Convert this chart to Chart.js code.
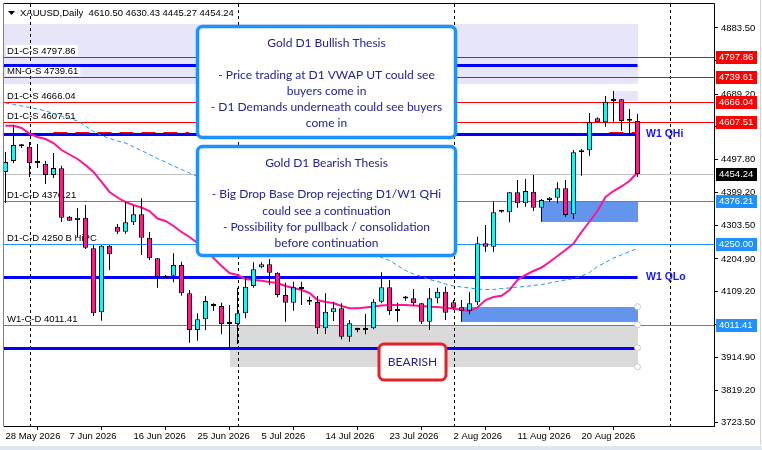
<!DOCTYPE html>
<html>
<head>
<meta charset="utf-8">
<script src="https://cdn.jsdelivr.net/npm/chart.js@4.4.1/dist/chart.umd.min.js"></script>
<style>
html, body { margin: 0; padding: 0; background: #fff; overflow: hidden; }
canvas { display: block; }
</style>
</head>
<body>
<canvas id="chart" width="762" height="450"></canvas>
<script>
// XAUUSD daily candles
var opens = [4460.3, 4492.6, 4536.0, 4534.7, 4486.7, 4484.7, 4451.5, 4471.2, 4328.9, 4319.2,
  4326.0, 4236.0, 4047.9, 4243.7, 4299.5, 4284.8, 4312.5, 4336.0, 4267.2, 4206.6,
  4149.6, 4155.5, 4187.0, 4103.8, 3995.9, 4027.4, 4071.4, 4066.5, 4013.6, 4013.6,
  4045.0, 4125.3, 4180.2, 4189.0, 4164.3, 4098.8, 4076.2, 4119.4, 4079.1, 4078.2,
  4000.9, 4047.9, 4059.7, 3976.2, 3995.9, 3995.9, 4000.9, 4079.1, 4121.4, 4052.6,
  4089.1, 4089.1, 4074.4, 4020.3, 4089.1, 4108.5, 4077.3, 4062.7, 4052.6, 4077.3,
  4250.7, 4240.7, 4343.6, 4341.8, 4400.6, 4368.3, 4402.4, 4355.4, 4378.0, 4384.8,
  4412.4, 4336.0, 4518.2, 4524.1, 4618.1, 4606.4, 4669.0, 4674.0, 4612.2, 4610.50];
var highs = [4519.1, 4598.4, 4542.6, 4548.5, 4542.6, 4492.6, 4516.1, 4478.8, 4331.0, 4354.5,
  4363.3, 4245.7, 4245.7, 4245.7, 4307.5, 4373.0, 4361.3, 4383.0, 4284.0, 4207.5,
  4157.6, 4221.3, 4196.7, 4113.5, 4045.0, 4095.9, 4074.4, 4076.2, 4069.4, 4120.2,
  4152.6, 4194.9, 4194.9, 4204.6, 4165.5, 4134.9, 4137.9, 4137.9, 4093.8, 4095.9,
  4103.8, 4079.1, 4074.4, 4025.3, 4002.7, 4043.0, 4086.2, 4165.5, 4142.9, 4076.2,
  4095.9, 4116.4, 4075.3, 4118.5, 4120.2, 4123.2, 4084.1, 4084.1, 4106.7, 4270.2,
  4304.5, 4373.0, 4346.5, 4401.5, 4436.8, 4439.7, 4451.5, 4381.0, 4386.8, 4430.0,
  4436.8, 4524.9, 4527.9, 4633.7, 4621.1, 4683.7, 4698.4, 4674.9, 4645.5, 4630.43];
var lows = [4369.2, 4486.7, 4530.8, 4445.6, 4472.0, 4425.0, 4442.7, 4313.3, 4316.3, 4269.3,
  4234.0, 4037.1, 4023.3, 4172.3, 4278.1, 4278.9, 4304.5, 4216.4, 4201.7, 4120.2,
  4148.7, 4136.1, 4096.8, 3958.6, 3964.5, 3995.9, 4052.6, 3983.3, 3940.1, 3954.8,
  4030.3, 4120.2, 4177.3, 4128.2, 4092.0, 4020.3, 4052.6, 4069.4, 4069.4, 3984.2,
  3984.2, 4022.4, 3968.6, 3961.5, 3989.1, 3983.3, 3998.0, 4074.4, 4040.0, 4020.3,
  4082.0, 4067.3, 4013.6, 3995.9, 4074.4, 4025.3, 4054.7, 4020.3, 4042.1, 4069.4,
  4226.0, 4226.0, 4340.7, 4312.5, 4355.4, 4358.3, 4345.7, 4314.2, 4373.0, 4368.3,
  4328.9, 4322.2, 4449.4, 4508.2, 4604.3, 4593.4, 4608.1, 4581.7, 4569.0, 4445.27];
var closes = [4489.7, 4539.6, 4537.0, 4485.9, 4488.2, 4451.5, 4472.0, 4326.0, 4317.2, 4326.0,
  4237.8, 4045.0, 4243.7, 4218.4, 4284.8, 4312.5, 4336.0, 4267.2, 4206.6, 4152.6,
  4155.5, 4187.0, 4103.8, 3995.9, 4027.4, 4081.2, 4066.5, 4013.6, 4015.0, 4045.0,
  4123.2, 4174.3, 4189.0, 4164.3, 4098.8, 4076.2, 4121.4, 4116.4, 4079.7, 4000.9,
  4049.7, 4059.7, 3976.2, 4015.6, 3996.5, 4000.9, 4079.1, 4121.4, 4051.8, 4051.8,
  4088.5, 4074.4, 4020.3, 4089.1, 4108.5, 4046.8, 4061.5, 4052.6, 4074.4, 4250.7,
  4240.7, 4341.8, 4344.8, 4400.6, 4368.3, 4404.4, 4355.4, 4378.0, 4384.8, 4412.4,
  4333.9, 4518.2, 4524.1, 4606.4, 4606.4, 4666.9, 4674.0, 4610.2, 4611.1, 4454.24];

// D1 VWAP (pink) and slow average (blue dashed)
var vwap = [4596.4, 4596.4, 4589.6, 4573.4, 4563.2, 4557.3, 4545.5, 4524.9, 4511.7, 4498.5,
  4480.9, 4460.3, 4430.9, 4401.5, 4385.3, 4372.1, 4363.3, 4355.9, 4345.7, 4323.6,
  4316.3, 4301.6, 4283.9, 4269.3, 4251.6, 4231.1, 4207.5, 4184.0, 4163.4, 4157.6,
  4145.8, 4142.9, 4140.8, 4137.0, 4134.0, 4125.3, 4119.4, 4113.5, 4104.7, 4084.1,
  4078.2, 4075.3, 4066.5, 4059.7, 4059.7, 4062.1, 4065.0, 4067.9, 4069.4, 4069.4,
  4069.4, 4067.9, 4066.5, 4064.4, 4063.5, 4060.5, 4059.1, 4054.7, 4051.8, 4062.1,
  4084.1, 4092.9, 4096.7, 4113.5, 4142.9, 4157.6, 4169.3, 4179.6, 4195.8, 4213.4,
  4231.1, 4250.2, 4283.9, 4314.8, 4345.7, 4386.8, 4404.4, 4417.7, 4433.7, 4459.4];
var slowAvg = [4663.1, 4658.7, 4654.3, 4649.9, 4645.4, 4639.6, 4632.2, 4624.9, 4617.5, 4610.2,
  4595.5, 4579.3, 4567.6, 4558.8, 4551.4, 4545.5, 4533.8, 4523.5, 4511.7, 4500.0,
  4489.7, 4477.9, 4467.6, 4457.4, 4447.0, 4436.8, 4426.5, 4416.2, 4406.0, 4395.6,
  4385.4, 4375.1, 4364.8, 4354.5, 4344.2, 4333.9, 4323.6, 4313.3, 4303.0, 4292.8,
  4282.5, 4272.2, 4261.9, 4251.6, 4241.3, 4231.1, 4219.3, 4209.0, 4200.2, 4185.5,
  4170.8, 4160.5, 4153.2, 4144.4, 4138.5, 4131.1, 4125.3, 4122.3, 4119.4, 4116.4,
  4114.9, 4114.9, 4117.9, 4119.4, 4122.3, 4123.8, 4126.7, 4129.7, 4134.0, 4138.5,
  4142.9, 4147.3, 4154.6, 4164.9, 4182.6, 4194.3, 4207.5, 4216.4, 4226.6, 4235.4];

var dateLabels = ['28 May 2026', '7 Jun 2026', '16 Jun 2026', '25 Jun 2026', '5 Jul 2026',
  '14 Jul 2026', '23 Jul 2026', '2 Aug 2026', '11 Aug 2026', '20 Aug 2026'];
var dateTickBars = [0, 8, 16, 24, 32, 40, 48, 56, 64, 72];
var priceTicks = [3723.5, 3819.2, 3914.9, 4012.5, 4109.2, 4204.9, 4303.5, 4399.2, 4497.8,
  4593.5, 4689.2, 4787.8, 4883.5];
var monthStartBars = [3, 29, 56, 83];

var supplyLevels = [4797.86, 4739.61, 4666.04, 4607.51];
var supplyNames = ['D1-C-S 4797.86', 'MN-C-S 4739.61', 'D1-C-S 4666.04', 'D1-C-S 4607.51'];
var demandLevels = [4376.21, 4250.00, 4011.41];
var demandNames = ['D1-C-D 4376.21', 'D1-C-D 4250 B HiPC', 'W1-C-D 4011.41'];
var quarterLines = [4774.8, 4570.5, 4150.8, 3943.9];
var quarterNames = ['', 'W1 QHi', 'W1 QLo', ''];
var lastPrice = 4454.24;
var prevVwapBand = 4575.5;

// zones: [fromBar, toBar, top, bottom]
var lavenderZones = [[-1, 79, 4895.3, 4719.0], [76, 79, 4698.3, 4669.0]];
var grayZone = [28, 79, 4011.41, 3888.1];
var blueZones = [[57, 79, 4064.4, 4020.3], [67, 79, 4376.21, 4314.2]];

var bullishNote = ['Gold D1 Bullish Thesis', '', '- Price trading at D1 VWAP UT could see', 'buyers come in',
  '- D1 Demands underneath could see buyers', 'come in'];
var bearishNote = ['Gold D1 Bearish Thesis', '', '- Big Drop Base Drop rejecting D1/W1 QHi',
  'could see a continuation', '- Possibility for pullback / consolidation', 'before continuation'];
var header = 'XAUUSD,Daily  4610.50 4630.43 4445.27 4454.24';

var yMax = 4954.0, yMin = 3713.8;
var bars = opens.map(function (_, i) { return i; });
var bodyColors = bars.map(function (i) { return closes[i] >= opens[i] ? '#00ffff' : '#ff1a8c'; });
var lastBar = bars.length - 1;

var axisFont = '9.5px "Liberation Sans"';
var noteFont = '12px Lato';

function hline(ctx, x1, x2, y, color, width) {
  ctx.save();
  ctx.strokeStyle = color;
  ctx.lineWidth = width;
  ctx.beginPath();
  var yy = width % 2 ? Math.round(y) + 0.5 : Math.round(y);
  ctx.moveTo(x1, yy);
  ctx.lineTo(x2, yy);
  ctx.stroke();
  ctx.restore();
}

var backdrop = {
  id: 'backdrop',
  beforeDatasetsDraw: function (chart) {
    var ctx = chart.ctx, a = chart.chartArea;
    var xs = chart.scales.x, ys = chart.scales.y;
    ctx.save();
    ctx.beginPath();
    ctx.rect(a.left, a.top, a.right - a.left, a.bottom - a.top);
    ctx.clip();

    function zone(z, color) {
      var x1 = Math.max(a.left, Math.round(xs.getPixelForValue(z[0])));
      var x2 = Math.round(xs.getPixelForValue(z[1]));
      var y1 = Math.round(ys.getPixelForValue(z[2]));
      var y2 = Math.round(ys.getPixelForValue(z[3]));
      ctx.fillStyle = color;
      ctx.fillRect(x1, y1, x2 - x1, y2 - y1);
    }
    lavenderZones.forEach(function (z) { zone(z, '#e6e6f8'); });
    zone(grayZone, '#dadada');
    blueZones.forEach(function (z) { zone(z, '#6495ed'); });

    // level labels with white backing
    ctx.font = '9.5px "Liberation Sans"';
    ctx.textBaseline = 'middle';
    ctx.textAlign = 'left';
    supplyLevels.concat(demandLevels).forEach(function (lv, k) {
      var name = supplyNames.concat(demandNames)[k];
      var y = Math.round(ys.getPixelForValue(lv));
      var w = ctx.measureText(name).width;
      if (k < supplyLevels.length) {
        ctx.fillStyle = '#fff';
        ctx.fillRect(6, y - 12, w + 3, 11);
      }
      ctx.fillStyle = '#000';
      ctx.fillText(name, 7, y - 6);
    });

    // month separators
    ctx.save();
    ctx.strokeStyle = '#000';
    ctx.lineWidth = 1;
    ctx.setLineDash([3, 3]);
    monthStartBars.forEach(function (b) {
      var x = Math.round(xs.getPixelForValue(b)) + 0.5;
      ctx.beginPath();
      ctx.moveTo(x, a.top);
      ctx.lineTo(x, a.bottom);
      ctx.stroke();
    });
    ctx.restore();

    supplyLevels.forEach(function (lv) { hline(ctx, a.left, a.right, ys.getPixelForValue(lv), '#ff0000', 1); });
    demandLevels.forEach(function (lv) { hline(ctx, a.left, a.right, ys.getPixelForValue(lv), '#1e90ff', 1); });
    hline(ctx, a.left, a.right, ys.getPixelForValue(lastPrice), '#c0c0c0', 1);

    // old VWAP band dashes, mostly under the W1 QHi line
    ctx.save();
    ctx.setLineDash([14, 8]);
    hline(ctx, xs.getPixelForValue(6), xs.getPixelForValue(23), ys.getPixelForValue(prevVwapBand), '#ff0000', 2);
    hline(ctx, xs.getPixelForValue(75.5), xs.getPixelForValue(79), ys.getPixelForValue(prevVwapBand), '#ff0000', 2);
    ctx.restore();

    var xEnd = xs.getPixelForValue(lastBar);
    quarterLines.forEach(function (lv) { hline(ctx, a.left, xEnd, ys.getPixelForValue(lv), '#0000ff', 3); });

    // anchor circles on the zones
    ctx.strokeStyle = '#c8c8c8';
    ctx.fillStyle = '#fff';
    ctx.lineWidth = 1;
    [blueZones[0][2], grayZone[2], quarterLines[3], grayZone[3]].forEach(function (lv) {
      ctx.beginPath();
      ctx.arc(xEnd, ys.getPixelForValue(lv), 3, 0, Math.PI * 2);
      ctx.fill();
      ctx.stroke();
    });
    ctx.restore();
  }
};

function noteBox(ctx, x, y, w, h, lines, lineYs) {
  ctx.save();
  ctx.beginPath();
  ctx.roundRect(x, y, w, h, 5);
  ctx.fillStyle = '#fff';
  ctx.fill();
  ctx.lineWidth = 3.5;
  ctx.strokeStyle = '#1e90ff';
  ctx.stroke();
  ctx.fillStyle = '#22229a';
  ctx.font = noteFont;
  ctx.textAlign = 'center';
  ctx.textBaseline = 'middle';
  lines.forEach(function (t, i) { ctx.fillText(t, x + w / 2, lineYs[i]); });
  ctx.restore();
}

function axisTag(ctx, y, text, bg) {
  y = Math.round(y);
  ctx.fillStyle = bg;
  ctx.fillRect(716, y - 6, 41, 13);
  ctx.fillStyle = '#fff';
  ctx.font = axisFont;
  ctx.textAlign = 'left';
  ctx.textBaseline = 'middle';
  ctx.fillText(text, 719, y + 0.5);
}

var overlay = {
  id: 'overlay',
  afterDraw: function (chart) {
    var ctx = chart.ctx, a = chart.chartArea;
    var ys = chart.scales.y;
    ctx.save();

    // window frame
    ctx.strokeStyle = '#000';
    ctx.lineWidth = 1;
    ctx.beginPath();
    ctx.moveTo(a.left - 0.5, a.top - 0.5);
    ctx.lineTo(a.right + 0.5, a.top - 0.5);
    ctx.lineTo(a.right + 0.5, a.bottom + 0.5);
    ctx.stroke();
    ctx.strokeStyle = '#808080';
    ctx.beginPath();
    ctx.moveTo(a.left - 0.5, a.top - 0.5);
    ctx.lineTo(a.left - 0.5, a.bottom + 0.5);
    ctx.stroke();
    ctx.strokeStyle = '#d4d4d4';
    ctx.beginPath();
    ctx.moveTo(760.5, 0);
    ctx.lineTo(760.5, 445);
    ctx.stroke();
    ctx.fillStyle = '#dfe6ee';
    ctx.fillRect(0, 446, 762, 4);

    // quarter labels
    ctx.fillStyle = '#1414ff';
    ctx.font = 'bold 10.5px "Liberation Sans"';
    ctx.textAlign = 'left';
    ctx.textBaseline = 'middle';
    quarterLines.forEach(function (lv, i) {
      if (quarterNames[i]) ctx.fillText(quarterNames[i], 646, ys.getPixelForValue(lv));
    });

    // price tags on the axis
    supplyLevels.forEach(function (lv) { axisTag(ctx, ys.getPixelForValue(lv), lv.toFixed(2), '#ff0000'); });
    axisTag(ctx, ys.getPixelForValue(lastPrice), lastPrice.toFixed(2), '#000');
    demandLevels.forEach(function (lv) { axisTag(ctx, ys.getPixelForValue(lv), lv.toFixed(2), '#1e90ff'); });

    // thesis notes
    noteBox(ctx, 197.5, 26.5, 258, 111, bullishNote, [43, 59, 75, 91, 107, 123]);
    noteBox(ctx, 197.5, 146.5, 258, 109, bearishNote, [163, 179, 194.5, 211, 227.5, 243.5]);

    // BEARISH tag
    ctx.beginPath();
    ctx.roundRect(379, 344, 67, 36, 5);
    ctx.fillStyle = '#fff';
    ctx.fill();
    ctx.lineWidth = 3;
    ctx.strokeStyle = '#e8202a';
    ctx.stroke();
    ctx.fillStyle = '#22229a';
    ctx.font = noteFont;
    ctx.textAlign = 'center';
    ctx.textBaseline = 'middle';
    ctx.fillText('BEARISH', 412.5, 362.5);

    // header
    ctx.fillStyle = '#000';
    ctx.beginPath();
    ctx.moveTo(8, 11);
    ctx.lineTo(15, 11);
    ctx.lineTo(11.5, 15);
    ctx.closePath();
    ctx.fill();
    ctx.font = axisFont;
    ctx.textAlign = 'left';
    ctx.fillText(header, 20, 13.5);
    ctx.restore();
  }
};

new Chart(document.getElementById('chart'), {
  type: 'bar',
  data: {
    datasets: [
      {
        type: 'bar',
        label: 'body',
        data: bars.map(function (i) { return { x: i, y: [opens[i], closes[i]] }; }),
        backgroundColor: bodyColors,
        borderColor: '#000',
        borderWidth: 1,
        borderSkipped: false,
        inflateAmount: 0,
        barThickness: 5,
        minBarLength: 2,
        grouped: false,
        order: 0
      },
      {
        type: 'bar',
        label: 'wick',
        data: bars.map(function (i) { return { x: i, y: [lows[i], highs[i]] }; }),
        backgroundColor: '#000',
        borderWidth: 0,
        inflateAmount: 0,
        barThickness: 1,
        grouped: false,
        order: 1
      },
      {
        type: 'line',
        label: 'D1 VWAP',
        data: bars.map(function (i) { return { x: i, y: vwap[i] }; }),
        borderColor: '#ff1493',
        borderWidth: 2,
        pointRadius: 0,
        tension: 0,
        order: 2
      },
      {
        type: 'line',
        label: 'slow average',
        data: bars.map(function (i) { return { x: i, y: slowAvg[i] }; }),
        borderColor: '#1e90ff',
        borderWidth: 1,
        borderDash: [4, 3],
        pointRadius: 0,
        tension: 0,
        order: 3
      }
    ]
  },
  options: {
    responsive: false,
    animation: false,
    devicePixelRatio: 1,
    layout: { padding: { left: 4, top: 4, right: 0, bottom: 0 } },
    plugins: { legend: { display: false }, tooltip: { enabled: false } },
    scales: {
      x: {
        type: 'linear',
        min: -0.1875,
        max: 88.5625,
        offset: false,
        afterFit: function (s) { s.height = 24; s.paddingLeft = 0; s.paddingRight = 0; },
        afterBuildTicks: function (s) { s.ticks = dateTickBars.map(function (v) { return { value: v }; }); },
        ticks: {
          autoSkip: false,
          maxRotation: 0,
          align: 'start',
          padding: 1,
          color: '#000',
          font: { family: 'Liberation Sans', size: 9.5 },
          callback: function (v, i) { return dateLabels[i]; }
        },
        grid: { drawOnChartArea: false, tickLength: 4, color: '#000' },
        border: { color: '#000' }
      },
      y: {
        position: 'right',
        min: yMin,
        max: yMax,
        afterFit: function (s) { s.width = 48; s.paddingTop = 0; s.paddingBottom = 0; },
        afterBuildTicks: function (s) { s.ticks = priceTicks.map(function (v) { return { value: v }; }); },
        ticks: {
          autoSkip: false,
          padding: 3,
          color: '#000',
          font: { family: 'Liberation Sans', size: 9.5 },
          callback: function (v) { return v.toFixed(2); }
        },
        grid: { drawOnChartArea: false, tickLength: 4, color: '#000' },
        border: { color: '#000' }
      }
    }
  },
  plugins: [backdrop, overlay]
});
</script>
</body>
</html>
